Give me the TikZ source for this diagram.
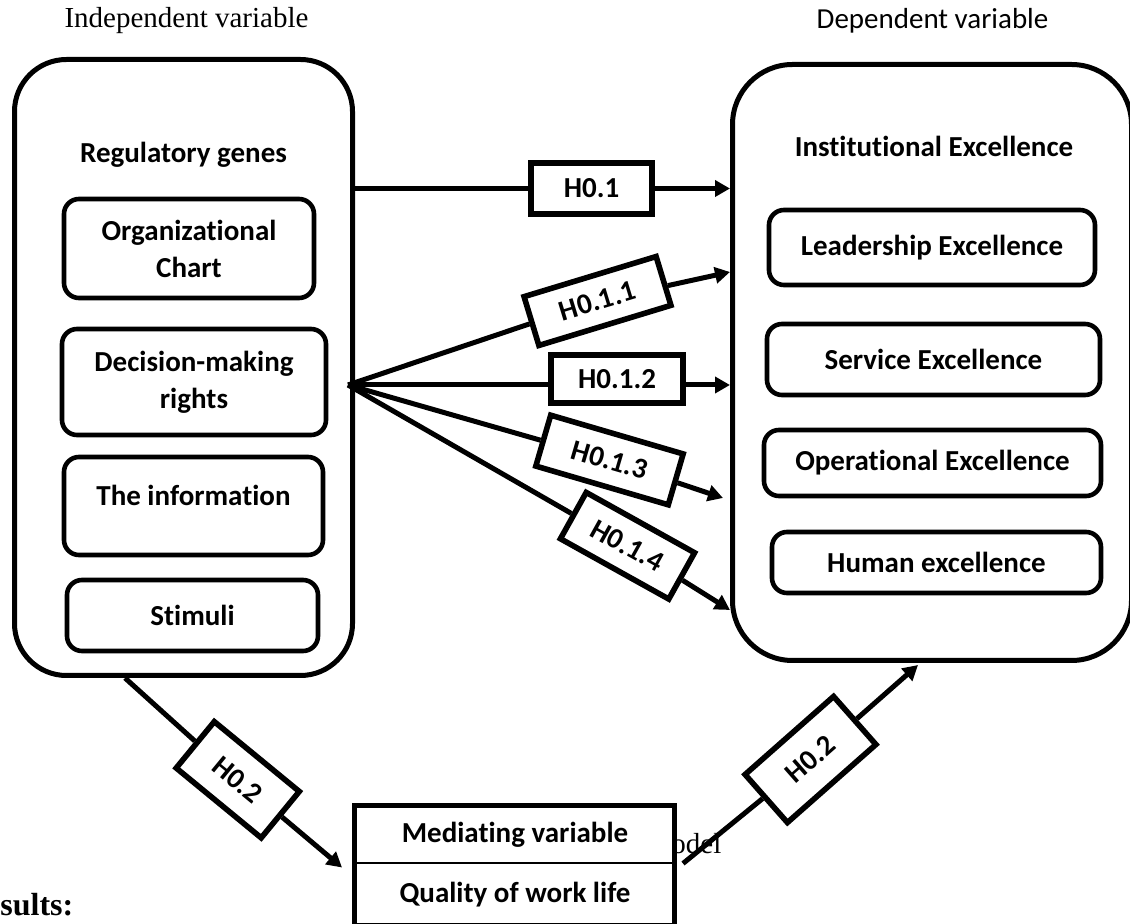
\documentclass[tikz,border=0pt]{standalone}
\usepackage{fontspec}
\setmainfont{Liberation Serif}
\newfontfamily\calib[Ligatures=NoCommon]{Carlito}
\usetikzlibrary{arrows.meta,calc}
\tikzset{
 bigbox/.style={draw, line width=2.5pt, fill=white, inner sep=0pt},
 inbox/.style={draw, line width=2.3pt, rounded corners=7.5pt, inner sep=0pt, align=center,
   font=\calib\bfseries\fontsize{14.5}{18.5}\selectfont},
 hbox/.style={draw, line width=2.8pt, fill=white, inner sep=0pt,
   font=\calib\bfseries\fontsize{14.5}{17}\selectfont},
 conn/.style={line width=2.5pt},
 arr/.style={line width=2.5pt, -{Triangle[length=7.5pt,width=8pt]}},
 ttl/.style={inner sep=0pt, font=\calib\bfseries\fontsize{14.5}{17}\selectfont},
 serif/.style={inner sep=0pt, font=\fontsize{14.5}{17}\selectfont},
}
\begin{document}
\begin{tikzpicture}[x=0.5pt,y=-0.5pt]
\useasboundingbox (0,0) rectangle (1130,924);
\fill[white] (0,0) rectangle (1130,924);

% titles
\node[serif, anchor=base] (IV) at (186.5,28) {Independent variable};
\node[inner sep=0pt, font=\calib\fontsize{14.5}{17}\selectfont, anchor=base] (DV) at (932.5,29) {Dependent variable};

% big boxes
\node[bigbox, rounded corners=26pt, minimum width=169pt, minimum height=308pt] (L) at (183.5,367.5) {};
\node[bigbox, rounded corners=30pt, minimum width=199.5pt, minimum height=298pt] (R) at (932,362.5) {};

% left contents
\node[ttl, anchor=base] (RG) at (183.5,163) {Regulatory genes};
\node[inbox, minimum width=125pt, minimum height=49.5pt] (OC) at (189,248.5) {Organizational\\Chart};
\node[inbox, minimum width=132pt, minimum height=53pt] (DM) at (194,382) {Decision-making\\rights};
\node[inbox, minimum width=129.5pt, minimum height=49pt] (TI) at (193.5,506) {};
\node[ttl] (TIt) at (193.5,495) {The information};
\node[inbox, minimum width=125.5pt, minimum height=35.5pt] (ST) at (192.5,615.5) {Stimuli};

% right contents
\node[ttl, anchor=base] (IE) at (934,157) {Institutional Excellence};
\node[inbox, minimum width=163pt, minimum height=37.5pt] (LE) at (932,247.5) {Leadership Excellence};
\node[inbox, minimum width=166.5pt, minimum height=35.5pt] (SE) at (933.5,359.5) {Service Excellence};
\node[inbox, minimum width=168.5pt, minimum height=33pt] (OE) at (932.5,463) {Operational Excellence};
\node[inbox, minimum width=164.5pt, minimum height=30.5pt] (HE) at (936.5,562.5) {Human excellence};

% partly hidden caption
\node[serif, anchor=base west] (od) at (671,853) {odel};

% mediating box
\node[draw, line width=2.5pt, fill=white, inner sep=0pt, minimum width=160pt, minimum height=60pt] (M) at (514.5,865.5) {};
\coordinate (y863) at (0,863);
\draw[line width=0.6pt] (M.west |- y863) -- (M.east |- y863);
\node[ttl] (MV) at (515,835) {Mediating variable};
\node[ttl] (QW) at (515,895) {Quality of work life};

\node[inner sep=0pt, font=\bfseries\fontsize{16}{19}\selectfont, anchor=base west] (RS) at (0,915) {sults:};

% hypothesis labels
\node[hbox, minimum width=60.5pt, minimum height=25.5pt] (H01) at (591.5,188.5) {H0.1};
\node[hbox, rotate=16.9, minimum width=69pt, minimum height=25.5pt] (H011) at (597.5,301) {H0.1.1};
\node[hbox, minimum width=66pt, minimum height=24pt, text depth=-2pt] (H012) at (617,379) {H0.1.2};
\node[hbox, rotate=-16.3, minimum width=69pt, minimum height=26.5pt] (H013) at (609.5,460) {H0.1.3};
\node[hbox, rotate=-29.1, minimum width=62pt, minimum height=26.5pt] (H014) at (627.5,545.75) {H0.1.4};
\node[hbox, rotate=-39.4, minimum width=55pt, minimum height=30pt] (H02a) at (237.75,779.75) {H0.2};
\node[hbox, rotate=41.4, minimum width=59pt, minimum height=32pt] (H02b) at (810.5,759.5) {H0.2};

% helper coordinates
\coordinate (fan) at (348,385);
\coordinate (y272) at (0,272);
\coordinate (y498) at (0,498);
\coordinate (y610) at (0,610);

% connectors
\draw[conn] (L.east |- H01) -- (H01.west);
\draw[arr] (H01.east) -- (R.west |- H01);
\draw[conn] (fan) -- (H011);
\draw[arr] (H011) -- (R.west |- y272);
\draw[conn] (fan) -- (fan -| H012.west);
\draw[arr] (H012.east |- fan) -- (R.west |- fan);
\draw[conn] (fan) -- (H013);
\draw[arr] (H013) -- ($(R.west |- y498)+(-3.5pt,0)$);
\draw[conn] (fan) -- (H014);
\draw[arr] (H014) -- (R.west |- y610);
\draw[conn] ($(L.south)+(-29.25pt,0)$) -- (H02a);
\draw[arr] (H02a) -- ($(M.west)+(-5pt,-1pt)$);
\draw[conn] ($(M.east)+(3pt,1pt)$) -- (H02b);
\draw[arr] (H02b) -- ($(R.south)+(-7pt,-1pt)$);
\end{tikzpicture}
\end{document}
